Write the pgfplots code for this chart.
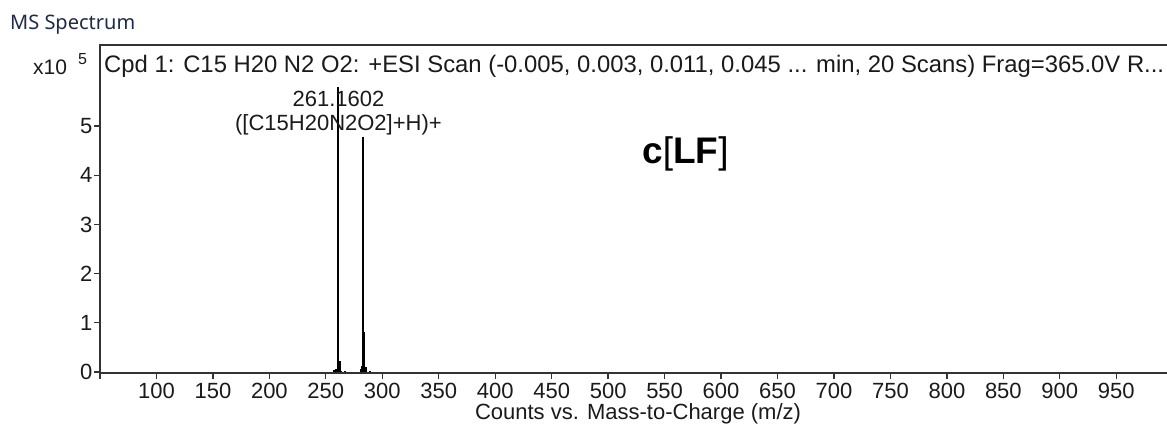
\documentclass[border=0pt]{standalone}
\usepackage{pgfplots}
\pgfplotsset{compat=1.18}
\usetikzlibrary{calc}
\usepackage{fontspec}
\setmainfont{Liberation Sans}
\newfontfamily\uifont{Noto Sans}
\definecolor{axcol}{HTML}{333333}
\definecolor{txt}{HTML}{1A1A1A}
\definecolor{navy}{HTML}{1E2A48}

\pgfplotstableread{
mz   I
256.9 0.05
259.1 0.07
261.16 5.80
262.16 0.22
263.2 0.03
267.2 0.03
281.3 0.06
282.2 0.12
283.14 4.78
284.14 0.82
285.15 0.10
289.5 0.03
}\peaks

\begin{document}
\begin{tikzpicture}
\begin{axis}[
  name=ms,
  scale only axis, width=1084pt, height=328pt,
  xmin=50, xmax=1010, ymin=-0.02, ymax=6.65,
  axis line style={axcol, line width=1.5pt},
  xtick={100,150,...,950},
  extra x ticks={50}, extra x tick labels={},
  ytick={0,1,...,5},
  tick pos=left, tick align=outside,
  major tick length=6pt,
  tick style={axcol, line width=1.3pt},
  /pgf/number format/assume math mode=true,
  ticklabel style={font=\fontsize{22}{24}\selectfont, text=txt},
  xticklabel style={yshift=-1pt},
  yticklabel style={xshift=2pt},
  clip=false,
]
\addplot[ycomb, black, line width=2pt] table[x=mz,y=I] {\peaks};
\node[anchor=base, inner sep=0, text=txt, font=\fontsize{22}{24}\selectfont] at (axis cs:261.16,5.40) {261.1602};
\node[anchor=base, inner sep=0, text=txt, font=\fontsize{22}{24}\selectfont] at (axis cs:261.16,4.92) {([C15H20N2O2]+H)+};
\node[anchor=base west, inner sep=0, text=black, font=\fontsize{37}{40}\selectfont] at (axis cs:530,4.25) {\textbf{c}[\textbf{LF}]};
\end{axis}
\pgfresetboundingbox
\begin{scope}[x=1pt,y=1pt,shift={($(ms.south west)+(-100pt,-53pt)$)}]
\useasboundingbox (0,0) rectangle (1167,426);
\node[anchor=base west,inner sep=0,text=navy] at (10,396) {\resizebox{125pt}{!}{\uifont MS Spectrum}};
\node[anchor=base west,inner sep=0,text=txt] at (33,351) {\fontsize{21}{23}\selectfont x10};
\node[anchor=base west,inner sep=0,text=txt] at (78,361) {\fontsize{16}{18}\selectfont 5};
\node[anchor=base west,inner sep=0,text=txt] at (104,353) {\resizebox{1060pt}{!}{Cpd 1: C15 H20 N2 O2: +ESI Scan (-0.005, 0.003, 0.011, 0.045 ... min, 20 Scans) Frag=365.0V R...}};
\node[anchor=base,inner sep=0,text=txt] at (638,7) {\fontsize{22}{24}\selectfont Counts vs. Mass-to-Charge (m/z)};
\end{scope}
\end{tikzpicture}
\end{document}
